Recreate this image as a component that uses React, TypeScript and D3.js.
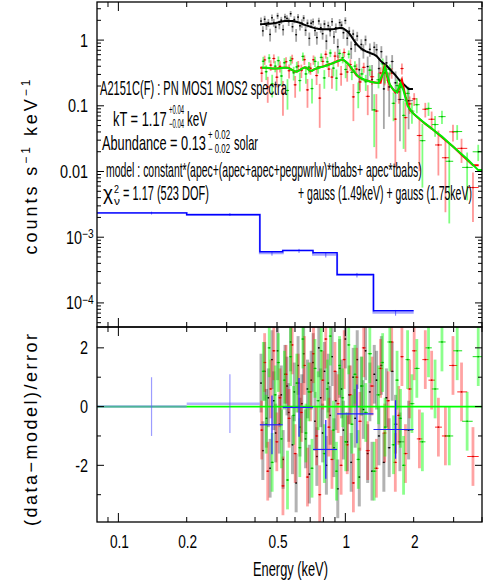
import React from "react";
import * as d3 from "d3";

// ---------------- data ----------------
const xTickLabels = [0.1, 0.2, 0.5, 1, 2];
const yTopLabels = [1, 0.1, 0.01, 0.001, 0.0001];
const yResLabels = [2, 0, -2];

// PN (black)
const pnEnergy = [
  0.425, 0.433, 0.441, 0.449, 0.458, 0.466, 0.475, 0.484, 0.493, 0.503,
  0.512, 0.522, 0.532, 0.542, 0.553, 0.563, 0.574, 0.585, 0.596, 0.607,
  0.619, 0.631, 0.643, 0.655, 0.668, 0.681, 0.694, 0.707, 0.721, 0.735,
  0.749, 0.764, 0.779, 0.794, 0.809, 0.825, 0.841, 0.857, 0.874, 0.891,
  0.908, 0.926, 0.944, 0.962, 0.981, 1.0, 1.02, 1.04, 1.061, 1.083,
  1.105, 1.128, 1.152, 1.176, 1.201, 1.227, 1.254, 1.282, 1.311, 1.341,
  1.373, 1.406, 1.441, 1.478, 1.517, 1.56, 1.608, 1.664, 1.74, 1.9,
];
const pnModel = [
  1.74, 1.75, 1.76, 1.77, 1.77, 1.78, 1.79, 1.8, 1.82, 1.85,
  1.88, 1.91, 1.93, 1.95, 1.96, 1.97, 1.96, 1.95, 1.93, 1.9,
  1.87, 1.83, 1.78, 1.73, 1.69, 1.66, 1.62, 1.58, 1.55, 1.52,
  1.5, 1.48, 1.47, 1.46, 1.46, 1.46, 1.46, 1.46, 1.46, 1.47,
  1.49, 1.51, 1.53, 1.54, 1.5, 1.43, 1.36, 1.27, 1.15, 1.03,
  0.93, 0.85, 0.79, 0.74, 0.71, 0.68, 0.66, 0.64, 0.62, 0.6,
  0.57, 0.52, 0.47, 0.44, 0.41, 0.37, 0.33, 0.29, 0.24, 0.18,
];
const pnResid = [
  0.8, -1.5, 1.2, -0.4, 0.3, -2.1, 1.6, 0.2, -0.9, 1.9,
  -0.6, 0.4, -1.8, 1.1, 0.7, -0.2, 2.2, -1.3, 0.5, -2.6,
  1.4, -0.7, 0.1, 1.8, -1.1, 0.6, -2.3, 0.9, 1.5, -0.5,
  -1.7, 2.0, 0.3, -0.9, 1.2, -2.0, 0.8, -0.3, 1.7, -1.4,
  0.2, -2.8, 1.3, 0.6, -0.8, 2.3, -1.2, 0.4, -1.9, 1.0,
  -0.4, 1.6, -2.4, 0.7, -0.1, 1.9, -1.6, 0.5, -2.2, 1.1,
  0.9, -1.0, 1.4, -1.9, 0.3, -1.4, 1.2, -0.6, -1.2, -0.8,
];
const pnRelErr = [
  0.15, 0.14, 0.15, 0.14, 0.14, 0.15, 0.14, 0.14, 0.15, 0.14,
  0.14, 0.13, 0.14, 0.14, 0.13, 0.14, 0.13, 0.14, 0.13, 0.14,
  0.14, 0.14, 0.15, 0.14, 0.15, 0.15, 0.15, 0.16, 0.15, 0.16,
  0.16, 0.16, 0.17, 0.16, 0.17, 0.17, 0.17, 0.17, 0.18, 0.17,
  0.17, 0.17, 0.16, 0.16, 0.17, 0.17, 0.18, 0.18, 0.19, 0.2,
  0.21, 0.22, 0.23, 0.23, 0.24, 0.25, 0.25, 0.26, 0.27, 0.27,
  0.28, 0.29, 0.3, 0.31, 0.32, 0.34, 0.36, 0.38, 0.4, 0.42,
];

// MOS1 (red)
const mos1Energy = [
  0.428, 0.441, 0.455, 0.469, 0.484, 0.499, 0.515, 0.531, 0.548, 0.565,
  0.583, 0.601, 0.62, 0.64, 0.66, 0.681, 0.702, 0.724, 0.747, 0.771,
  0.795, 0.82, 0.846, 0.873, 0.9, 0.929, 0.958, 0.988, 1.019, 1.052,
  1.085, 1.12, 1.16, 1.205, 1.255, 1.31, 1.37, 1.43, 1.49, 1.545,
  1.6, 1.66, 1.72, 1.775, 1.84, 1.92, 2.01, 2.12, 2.25, 2.4,
  2.57, 2.76, 2.98, 3.25, 3.65,
];
const mos1Model = [
  0.38, 0.38, 0.375, 0.37, 0.37, 0.37, 0.375, 0.38, 0.38, 0.375,
  0.35, 0.33, 0.34, 0.36, 0.385, 0.37, 0.335, 0.355, 0.37, 0.385,
  0.395, 0.41, 0.425, 0.44, 0.46, 0.48, 0.505, 0.49, 0.45, 0.39,
  0.34, 0.29, 0.265, 0.25, 0.24, 0.23, 0.225, 0.225, 0.42, 0.23,
  0.19, 0.16, 0.18, 0.25, 0.14, 0.088, 0.074, 0.063, 0.053, 0.045,
  0.037, 0.03, 0.024, 0.018, 0.0125,
];
const mos1Resid = [
  -0.8, 1.5, -2.2, 0.6, 1.9, -1.2, 0.3, -2.7, 1.1, -0.4,
  2.1, -1.6, 0.8, -0.2, 1.4, -2.4, 0.5, 1.8, -1.0, -3.0,
  0.9, 2.3, -0.7, -1.8, 1.2, 0.1, -2.0, 1.6, -1.3, 0.4,
  -2.6, 1.0, -0.5, 2.0, -1.5, 0.7, -2.1, 1.3, -0.9, 0.2,
  2.2, -1.9, -0.3, 1.7, -1.6, 0.6, 1.9, -1.1, 1.6, 0.9,
  -0.7, -1.0, 1.4, 0.5, -1.7,
];
const mos1RelErr = [
  0.22, 0.21, 0.22, 0.21, 0.22, 0.22, 0.21, 0.22, 0.21, 0.22,
  0.23, 0.23, 0.23, 0.22, 0.22, 0.22, 0.23, 0.23, 0.22, 0.22,
  0.22, 0.21, 0.21, 0.21, 0.2, 0.2, 0.2, 0.2, 0.21, 0.22,
  0.23, 0.25, 0.26, 0.27, 0.28, 0.29, 0.3, 0.31, 0.27, 0.33,
  0.3, 0.32, 0.31, 0.28, 0.33, 0.36, 0.38, 0.4, 0.42, 0.43,
  0.45, 0.46, 0.48, 0.5, 0.32,
];

// MOS2 (green)
const mos2Energy = [
  0.435, 0.448, 0.462, 0.476, 0.491, 0.507, 0.523, 0.539, 0.556, 0.574,
  0.592, 0.611, 0.63, 0.65, 0.67, 0.691, 0.713, 0.735, 0.759, 0.783,
  0.808, 0.833, 0.859, 0.886, 0.914, 0.943, 0.973, 1.003, 1.035, 1.068,
  1.102, 1.14, 1.182, 1.23, 1.282, 1.34, 1.4, 1.46, 1.495, 1.57,
  1.63, 1.69, 1.75, 1.805, 1.88, 1.965, 2.065, 2.185, 2.325, 2.485,
  2.665, 2.87, 3.11, 3.44, 3.85,
];
const mos2Model = [
  0.38, 0.38, 0.375, 0.37, 0.37, 0.37, 0.375, 0.38, 0.38, 0.36,
  0.34, 0.33, 0.35, 0.375, 0.385, 0.35, 0.34, 0.365, 0.375, 0.39,
  0.4, 0.415, 0.43, 0.45, 0.47, 0.49, 0.51, 0.47, 0.43, 0.37,
  0.32, 0.28, 0.26, 0.245, 0.235, 0.226, 0.223, 0.3, 0.39, 0.21,
  0.175, 0.16, 0.22, 0.17, 0.1, 0.08, 0.069, 0.058, 0.049, 0.041,
  0.034, 0.027, 0.021, 0.0155, 0.0105,
];
const mos2Resid = [
  1.2, -0.6, 2.0, -1.9, 0.4, 1.5, -1.1, 0.9, -2.5, 1.7,
  -0.3, 0.8, -1.4, 2.3, -0.9, 0.5, -2.1, 1.3, 0.2, 1.9,
  -1.6, 0.6, 2.4, -0.8, -2.2, 1.4, 0.3, -1.2, 2.1, -0.6,
  1.1, -1.8, 0.7, -0.2, 1.8, -2.2, 0.4, 1.5, -0.7, 2.2,
  -1.3, 0.9, -0.4, -2.0, 1.6, 0.1, 1.3, -1.2, 2.0, 0.6,
  2.2, -1.0, 1.9, -0.5, 1.7,
];
const mos2RelErr = [
  0.21, 0.22, 0.21, 0.22, 0.21, 0.21, 0.22, 0.21, 0.22, 0.21,
  0.22, 0.23, 0.22, 0.22, 0.23, 0.22, 0.22, 0.23, 0.22, 0.21,
  0.21, 0.21, 0.2, 0.21, 0.2, 0.2, 0.19, 0.2, 0.2, 0.21,
  0.23, 0.24, 0.25, 0.26, 0.27, 0.28, 0.29, 0.3, 0.26, 0.32,
  0.29, 0.3, 0.3, 0.29, 0.34, 0.37, 0.39, 0.41, 0.43, 0.44,
  0.46, 0.47, 0.49, 0.51, 0.53,
];

// Background / low-energy (blue) histogram
const bgEdges = [0.08, 0.2, 0.42, 0.53, 0.72, 0.92, 1.33, 2.0];
const bgModel = [2.35e-3, 2.2e-3, 6.0e-4, 6.3e-4, 5.8e-4, 2.7e-4, 7.6e-5];
const bgData = [2.33e-3, 2.22e-3, 5.7e-4, 6.2e-4, 5.4e-4, 2.65e-4, 7.1e-5];
const bgRelErr = [0.05, 0.05, 0.08, 0.07, 0.09, 0.08, 0.1];
const bgResid = [0.0, 0.1, -0.62, -0.03, -1.46, -0.25, -0.78];

// ---------------- layout ----------------
const W = 485;
const H = 581;
const L = 97;
const R = 482;
const T = 2;
const MID = 327;
const B = 522;
const FONT = "'Liberation Sans', Arial, Helvetica, sans-serif";

const xs = d3.scaleLog().domain([0.0805, 4.0]).range([L, R]);
const yTop = d3.scaleLog().domain([4.3e-5, 3.8]).range([MID, T]);
const yRes = d3.scaleLinear().domain([-3.93, 2.71]).range([B, MID]);

type Pt = { e: number; lo: number; hi: number; m: number; y: number; sig: number; r: number };

function buildSeries(E: number[], M: number[], Rr: number[], Er: number[]): Pt[] {
  return E.map((e, i) => {
    const lo = i > 0 ? Math.sqrt(E[i - 1] * e) : e / Math.sqrt(E[1] / e);
    const hi = i < E.length - 1 ? Math.sqrt(E[i + 1] * e) : e * Math.sqrt(e / E[i - 1]);
    const sig = Er[i] * M[i];
    const y = M[i] + Rr[i] * sig;
    return { e, lo, hi, m: M[i], y, sig, r: Rr[i] };
  });
}

const pn = buildSeries(pnEnergy, pnModel, pnResid, pnRelErr);
const mos1 = buildSeries(mos1Energy, mos1Model, mos1Resid, mos1RelErr);
const mos2 = buildSeries(mos2Energy, mos2Model, mos2Resid, mos2RelErr);

const modelLine = d3
  .line<{ e: number; m: number }>()
  .x((p) => xs(p.e))
  .y((p) => yTop(p.m));

function modelPath(pts: Pt[]) {
  const first = pts[0];
  const last = pts[pts.length - 1];
  return modelLine([{ e: first.lo, m: first.m }, ...pts, { e: last.hi, m: last.m }]) || "";
}

const bgStep = d3
  .line<{ e: number; m: number }>()
  .x((p) => xs(p.e))
  .y((p) => yTop(p.m))
  .curve(d3.curveStepAfter);

const isMajor = (v: number) => Math.abs(Math.log10(v) - Math.round(Math.log10(v))) < 1e-6;

type Style = { bar: string; barOp: number; hor: string; horOp: number; dot: string; rw: number };
const blackStyle: Style = { bar: "#000000", barOp: 0.3, hor: "#000000", horOp: 0.6, dot: "#000000", rw: 3 };
const redStyle: Style = { bar: "#ff0000", barOp: 0.36, hor: "#ff0000", horOp: 0.85, dot: "#cc0000", rw: 2.8 };
const greenStyle: Style = { bar: "#00ff00", barOp: 0.45, hor: "#00dd00", horOp: 0.9, dot: "#00aa00", rw: 2.8 };

function UpperData({ pts, s }: { pts: Pt[]; s: Style }) {
  return (
    <g>
      {pts.map((p, i) => {
        const x = xs(p.e);
        const yv = yTop(p.y);
        const y1 = yTop(Math.max(p.y - p.sig, 4.4e-5));
        const y2 = yTop(p.y + p.sig);
        return (
          <g key={i}>
            <line x1={x} x2={x} y1={y1} y2={y2} stroke={s.bar} strokeOpacity={s.barOp + 0.05} strokeWidth={1.8} />
            <line x1={xs(p.lo)} x2={xs(p.hi)} y1={yv} y2={yv} stroke={s.hor} strokeOpacity={s.horOp} strokeWidth={1} />
            <rect x={x - 0.7} y={yv - 0.7} width={1.4} height={1.4} fill={s.dot} />
          </g>
        );
      })}
    </g>
  );
}

function ResidData({ pts, s }: { pts: Pt[]; s: Style }) {
  return (
    <g>
      {pts.map((p, i) => {
        const x = xs(p.e);
        const yv = yRes(p.r);
        return (
          <g key={i}>
            <line x1={x} x2={x} y1={yRes(p.r - 1)} y2={yRes(p.r + 1)} stroke={s.bar} strokeOpacity={s.barOp} strokeWidth={s.rw} />
            <line x1={xs(p.lo)} x2={xs(p.hi)} y1={yv} y2={yv} stroke={s.hor} strokeOpacity={s.horOp} strokeWidth={1} />
            <rect x={x - 0.7} y={yv - 0.7} width={1.4} height={1.4} fill={s.dot} />
          </g>
        );
      })}
    </g>
  );
}

// measure text natural width so condensed text can be scaled to a target width
let measureCtx: CanvasRenderingContext2D | null = null;
function measure(text: string, size: number): number {
  if (!measureCtx) {
    const c = document.createElement("canvas");
    measureCtx = c.getContext("2d");
  }
  if (!measureCtx) return text.length * size * 0.55;
  measureCtx.font = `${size}px 'Liberation Sans', Arial, Helvetica, sans-serif`;
  return measureCtx.measureText(text).width || text.length * size * 0.55;
}

// condensed text with fixed horizontal scale
function CT({ x, y, size, sx, anchor, children }: any) {
  return (
    <text
      transform={`translate(${x},${y}) scale(${sx},1)`}
      fontSize={size}
      fontFamily={FONT}
      textAnchor={anchor || "start"}
      fill="#000"
    >
      {children}
    </text>
  );
}

// condensed text scaled to a given width
function FT({ x, y, size, w, text }: { x: number; y: number; size: number; w: number; text: string }) {
  const sx = w / measure(text, size);
  return (
    <text transform={`translate(${x},${y}) scale(${sx},1)`} fontSize={size} fontFamily={FONT} fill="#000">
      {text}
    </text>
  );
}

export default function App() {
  const xTicks = xs.ticks();
  const yTicks = yTop.ticks();
  const rTicks = d3.range(-3, 3);
  const bgPts = bgEdges.map((e, i) => ({ e, m: bgModel[Math.min(i, bgModel.length - 1)] }));
  const bgDataPts = bgEdges.map((e, i) => ({ e, m: bgData[Math.min(i, bgData.length - 1)] }));

  const tickLab = (v: number) => {
    const y = yTop(v);
    if (v >= 0.01) {
      return (
        <CT key={v} x={88} y={y + 6.5} size={19} sx={0.76} anchor="end">
          {String(v)}
        </CT>
      );
    }
    const p = Math.round(Math.log10(v));
    return (
      <g key={v}>
        <CT x={82} y={y + 6.5} size={19} sx={0.76} anchor="end">
          10
        </CT>
        <CT x={82} y={y + 1} size={12} sx={0.85} anchor="start">
          {"\u2212" + String(-p)}
        </CT>
      </g>
    );
  };

  return (
    <svg width={W} height={H} style={{ position: "absolute", left: 0, top: 0, background: "#fff" }}>
      <defs>
        <clipPath id="clipTop">
          <rect x={L} y={T} width={R - L} height={MID - T} />
        </clipPath>
        <clipPath id="clipRes">
          <rect x={L} y={MID} width={R - L} height={B - MID} />
        </clipPath>
      </defs>
      <rect x={0} y={0} width={W} height={H} fill="#fff" />

      {/* upper panel */}
      <g clipPath="url(#clipTop)">
        <path d={bgStep(bgDataPts) || ""} fill="none" stroke="#7f7fff" strokeOpacity={0.7} strokeWidth={2} />
        {bgData.map((v, i) => {
          const c = (bgEdges[i] + bgEdges[i + 1]) / 2;
          return (
            <line
              key={i}
              x1={xs(c)}
              x2={xs(c)}
              y1={yTop(v * (1 - bgRelErr[i]))}
              y2={yTop(v * (1 + bgRelErr[i]))}
              stroke="#3333ff"
              strokeOpacity={0.7}
              strokeWidth={1}
            />
          );
        })}
        <path d={bgStep(bgPts) || ""} fill="none" stroke="#0000ff" strokeWidth={1.4} />

        <UpperData pts={pn} s={blackStyle} />
        <UpperData pts={mos1} s={redStyle} />
        <UpperData pts={mos2} s={greenStyle} />
        <path d={modelPath(pn)} fill="none" stroke="#000" strokeWidth={2} />
        <path d={modelPath(mos1)} fill="none" stroke="#ff0000" strokeWidth={2} />
        <path d={modelPath(mos2)} fill="none" stroke="#00ee00" strokeWidth={2} />
      </g>

      {/* residual panel */}
      <g clipPath="url(#clipRes)">
        <ResidData pts={pn} s={blackStyle} />
        <ResidData pts={mos1} s={redStyle} />
        <ResidData pts={mos2} s={greenStyle} />
        <line x1={L} x2={R} y1={yRes(0)} y2={yRes(0)} stroke="#00ff00" strokeWidth={1.6} />
        {bgResid.map((r, i) => {
          const a = bgEdges[i];
          const b = bgEdges[i + 1];
          const c = (a + b) / 2;
          const light = i < 2;
          const col = light ? "#5a5aff" : "#2222ff";
          return (
            <g key={i}>
              <line x1={xs(a)} x2={xs(b)} y1={yRes(r)} y2={yRes(r)} stroke={light ? "#8080ff" : col} strokeOpacity={light ? 0.6 : 1} strokeWidth={light ? 2.5 : 1.2} />
              <line x1={xs(c)} x2={xs(c)} y1={yRes(r - 1)} y2={yRes(r + 1)} stroke={col} strokeOpacity={light ? 0.6 : 1} strokeWidth={1.2} />
            </g>
          );
        })}
      </g>

      {/* frames */}
      <rect x={L} y={T} width={R - L} height={MID - T} fill="none" stroke="#000" strokeWidth={1.3} />
      <rect x={L} y={MID} width={R - L} height={B - MID} fill="none" stroke="#000" strokeWidth={1.3} />

      {/* x ticks */}
      {xTicks.map((v, i) => {
        const x = xs(v);
        const len = isMajor(v) ? 9 : 5;
        return (
          <g key={i} stroke="#000" strokeWidth={1}>
            <line x1={x} x2={x} y1={T} y2={T + len} />
            <line x1={x} x2={x} y1={MID} y2={MID - len} />
            <line x1={x} x2={x} y1={MID} y2={MID + len} />
            <line x1={x} x2={x} y1={B} y2={B - len} />
          </g>
        );
      })}
      {/* y ticks upper */}
      {yTicks.map((v, i) => {
        const y = yTop(v);
        const len = isMajor(v) ? 7 : 4;
        return (
          <g key={i} stroke="#000" strokeWidth={1}>
            <line x1={L} x2={L + len} y1={y} y2={y} />
            <line x1={R} x2={R - len} y1={y} y2={y} />
          </g>
        );
      })}
      {/* y ticks residual */}
      {rTicks.map((v, i) => {
        const y = yRes(v);
        const len = v % 2 === 0 ? 7 : 4;
        return (
          <g key={i} stroke="#000" strokeWidth={1}>
            <line x1={L} x2={L + len} y1={y} y2={y} />
            <line x1={R} x2={R - len} y1={y} y2={y} />
          </g>
        );
      })}

      {/* tick labels */}
      {yTopLabels.map((v) => tickLab(v))}
      {yResLabels.map((v) => (
        <CT key={v} x={88} y={yRes(v) + 6.5} size={19} sx={0.76} anchor="end">
          {v < 0 ? "-" + String(-v) : String(v)}
        </CT>
      ))}
      {xTickLabels.map((v) => (
        <CT key={v} x={xs(v) + 1} y={548} size={19} sx={0.72} anchor="middle">
          {String(v)}
        </CT>
      ))}

      {/* axis titles */}
      <text
        transform="translate(37,167) rotate(-90)"
        fontSize={18}
        fontFamily={FONT}
        textAnchor="middle"
        textLength={175}
        lengthAdjust="spacing"
      >
        counts s<tspan dy={-7} fontSize={12}>{"\u22121"}</tspan>
        <tspan dy={7}> keV</tspan>
        <tspan dy={-7} fontSize={12}>{"\u22121"}</tspan>
      </text>
      <text
        transform="translate(37,430) rotate(-90)"
        fontSize={18}
        fontFamily={FONT}
        textAnchor="middle"
        textLength={192}
        lengthAdjust="spacing"
      >
        (data{"\u2212"}model)/error
      </text>
      <FT x={253} y={576} size={20} w={75} text="Energy (keV)" />

      {/* annotations */}
      <FT x={100} y={95} size={20} w={187} text="A2151C(F) : PN MOS1 MOS2 spectra" />
      <FT x={113} y={126} size={20} w={54} text="kT = 1.17" />
      <FT x={169} y={114} size={12} w={15} text="+0.04" />
      <FT x={169} y={128} size={12} w={15} text={"\u22120.04"} />
      <FT x={187} y={126} size={20} w={20} text="keV" />
      <FT x={102} y={150} size={20} w={104} text="Abundance = 0.13" />
      <FT x={208} y={139} size={12} w={22} text="+ 0.02" />
      <FT x={208} y={153} size={12} w={22} text={"\u2212 0.02"} />
      <FT x={234} y={150} size={20} w={24} text="solar" />
      <FT x={106} y={177} size={20} w={316} text="model : constant*(apec+(apec+apec+pegpwrlw)*tbabs+ apec*tbabs)" />
      <FT x={103} y={200} size={20} w={10} text={"\u03c7"} />
      <FT x={114} y={193} size={11} w={5} text="2" />
      <FT x={114} y={205} size={11} w={6} text={"\u03bd"} />
      <FT x={123} y={200} size={20} w={89} text="= 1.17  (523 DOF)" />
      <FT x={298} y={200} size={20} w={174} text="+ gauss (1.49keV) + gauss (1.75keV)" />
    </svg>
  );
}
